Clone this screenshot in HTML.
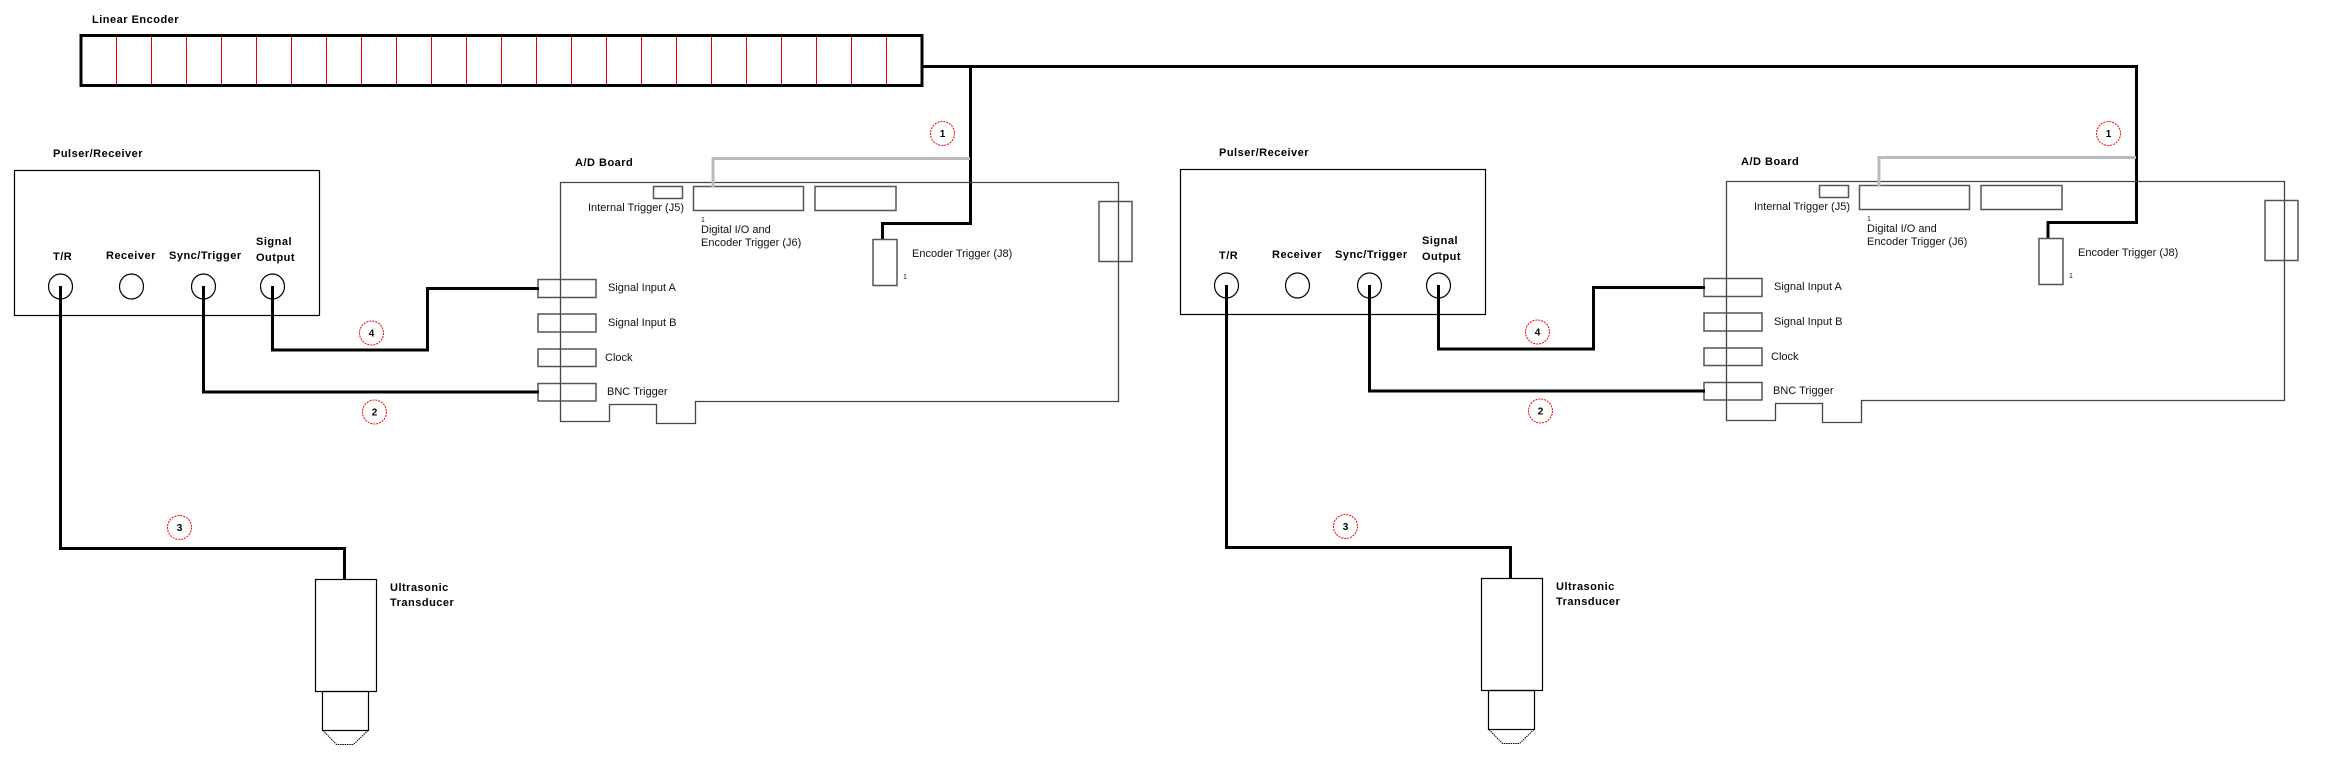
<!DOCTYPE html>
<html><head><meta charset="utf-8"><style>
html,body{margin:0;padding:0;background:#fff;}
svg{display:block;}
.b{font-family:"Liberation Sans",Arial,sans-serif;font-weight:bold;font-size:11px;letter-spacing:0.5px;fill:#000;}
.n{font-family:"Liberation Sans",Arial,sans-serif;font-size:11px;fill:#111;}
.s{font-family:"Liberation Sans",Arial,sans-serif;font-size:7px;fill:#111;}
.num{font-family:"Liberation Sans",Arial,sans-serif;font-weight:bold;font-size:10px;fill:#000;}
.cab{fill:none;stroke:#000;stroke-width:3;}
.thin{fill:none;stroke:#000;stroke-width:1.2;}
.brd{fill:none;stroke:#444;stroke-width:1.3;}
.con{fill:none;stroke:#555;stroke-width:1.5;}
.rc{fill:none;stroke:#e00;stroke-width:1;stroke-dasharray:2 1;}
</style></head><body>
<svg width="2338" height="765" viewBox="0 0 2338 765" xmlns="http://www.w3.org/2000/svg">
<!-- Linear encoder -->
<text class="b" x="92" y="23">Linear Encoder</text>
<g stroke="#e00" stroke-width="1">
<line x1="116.5" y1="37" x2="116.5" y2="84"/><line x1="151.5" y1="37" x2="151.5" y2="84"/><line x1="186.5" y1="37" x2="186.5" y2="84"/><line x1="221.5" y1="37" x2="221.5" y2="84"/><line x1="256.5" y1="37" x2="256.5" y2="84"/><line x1="291.5" y1="37" x2="291.5" y2="84"/><line x1="326.5" y1="37" x2="326.5" y2="84"/><line x1="361.5" y1="37" x2="361.5" y2="84"/><line x1="396.5" y1="37" x2="396.5" y2="84"/><line x1="431.5" y1="37" x2="431.5" y2="84"/><line x1="466.5" y1="37" x2="466.5" y2="84"/><line x1="501.5" y1="37" x2="501.5" y2="84"/><line x1="536.5" y1="37" x2="536.5" y2="84"/><line x1="571.5" y1="37" x2="571.5" y2="84"/><line x1="606.5" y1="37" x2="606.5" y2="84"/><line x1="641.5" y1="37" x2="641.5" y2="84"/><line x1="676.5" y1="37" x2="676.5" y2="84"/><line x1="711.5" y1="37" x2="711.5" y2="84"/><line x1="746.5" y1="37" x2="746.5" y2="84"/><line x1="781.5" y1="37" x2="781.5" y2="84"/><line x1="816.5" y1="37" x2="816.5" y2="84"/><line x1="851.5" y1="37" x2="851.5" y2="84"/><line x1="886.5" y1="37" x2="886.5" y2="84"/>
</g>
<rect x="81" y="35.5" width="841" height="50" fill="none" stroke="#000" stroke-width="3"/>
<!-- main encoder cable -->
<path class="cab" d="M922,66.5 H2136.5 V222.5 H2048 V239"/>
<path class="cab" d="M970.5,66.5 V223.5 H882.5 V240"/>

<!-- LEFT UNIT -->
<g>
<text class="b" x="53" y="157">Pulser/Receiver</text>
<rect x="14.5" y="170.5" width="305" height="145" class="thin"/>
<text class="b" x="53" y="260">T/R</text>
<text class="b" x="106" y="259">Receiver</text>
<text class="b" x="169" y="259">Sync/Trigger</text>
<text class="b" x="256" y="245">Signal</text>
<text class="b" x="256" y="261">Output</text>
<ellipse cx="60.5" cy="286.5" rx="12" ry="12.5" class="thin"/>
<ellipse cx="131.5" cy="286.5" rx="12" ry="12.5" class="thin"/>
<ellipse cx="203.5" cy="286.5" rx="12" ry="12.5" class="thin"/>
<ellipse cx="272.5" cy="286.5" rx="12" ry="12.5" class="thin"/>

<text class="b" x="575" y="166">A/D Board</text>
<path class="brd" d="M560.5,182.5 H1118.5 V401.5 H695.5 V423.5 H656.5 V404.5 H609.5 V421.5 H560.5 Z"/>
<rect x="1099" y="201.5" width="33" height="60" class="con"/>
<rect x="653.5" y="186.5" width="29" height="12" class="con"/>
<rect x="693.5" y="186.5" width="110" height="24" class="con"/>
<rect x="815" y="186.5" width="81" height="24" class="con"/>
<rect x="873" y="239.5" width="24" height="46" class="con"/>
<path d="M713,187 V158.5 H970" fill="none" stroke="#bbb" stroke-width="3"/>
<text class="n" x="588" y="211">Internal Trigger (J5)</text>
<text class="s" x="701" y="222">1</text>
<text class="n" x="701" y="233">Digital I/O and</text>
<text class="n" x="701" y="246"> Encoder Trigger (J6)</text>
<text class="n" x="912" y="257">Encoder Trigger (J8)</text>
<text class="s" x="903" y="279">1</text>
<rect x="538" y="279.5" width="58" height="18" class="con"/>
<rect x="538" y="314" width="58" height="18" class="con"/>
<rect x="538" y="349" width="58" height="17.5" class="con"/>
<rect x="538" y="383.5" width="58" height="17.5" class="con"/>
<text class="n" x="608" y="291">Signal Input A</text>
<text class="n" x="608" y="326">Signal Input B</text>
<text class="n" x="605" y="361">Clock</text>
<text class="n" x="607" y="395">BNC Trigger</text>

<path class="cab" d="M272.5,286 V350 H427.5 V288.5 H539"/>
<path class="cab" d="M203.5,286 V392 H539"/>
<path class="cab" d="M60.5,286 V548.5 H344.5 V580"/>

<rect x="315.5" y="579.5" width="61" height="112" class="thin"/>
<rect x="322.5" y="691.5" width="46" height="39" class="thin"/>
<path d="M323,730.5 L336.5,744.5 H353.5 L368,730.5" fill="none" stroke="#000" stroke-width="1" stroke-dasharray="1.5 0.8"/>
<text class="b" x="390" y="591">Ultrasonic</text>
<text class="b" x="390" y="606">Transducer</text>

<circle cx="942.5" cy="133.5" r="12" class="rc"/><text class="num" x="942.5" y="137" text-anchor="middle">1</text>
<circle cx="374.5" cy="412" r="12" class="rc"/><text class="num" x="374.5" y="415.5" text-anchor="middle">2</text>
<circle cx="179.5" cy="527.5" r="12" class="rc"/><text class="num" x="179.5" y="531" text-anchor="middle">3</text>
<circle cx="371.5" cy="333" r="12" class="rc"/><text class="num" x="371.5" y="336.5" text-anchor="middle">4</text>
</g>

<!-- RIGHT UNIT -->
<g transform="translate(1166,-1)">
<text class="b" x="53" y="157">Pulser/Receiver</text>
<rect x="14.5" y="170.5" width="305" height="145" class="thin"/>
<text class="b" x="53" y="260">T/R</text>
<text class="b" x="106" y="259">Receiver</text>
<text class="b" x="169" y="259">Sync/Trigger</text>
<text class="b" x="256" y="245">Signal</text>
<text class="b" x="256" y="261">Output</text>
<ellipse cx="60.5" cy="286.5" rx="12" ry="12.5" class="thin"/>
<ellipse cx="131.5" cy="286.5" rx="12" ry="12.5" class="thin"/>
<ellipse cx="203.5" cy="286.5" rx="12" ry="12.5" class="thin"/>
<ellipse cx="272.5" cy="286.5" rx="12" ry="12.5" class="thin"/>

<text class="b" x="575" y="166">A/D Board</text>
<path class="brd" d="M560.5,182.5 H1118.5 V401.5 H695.5 V423.5 H656.5 V404.5 H609.5 V421.5 H560.5 Z"/>
<rect x="1099" y="201.5" width="33" height="60" class="con"/>
<rect x="653.5" y="186.5" width="29" height="12" class="con"/>
<rect x="693.5" y="186.5" width="110" height="24" class="con"/>
<rect x="815" y="186.5" width="81" height="24" class="con"/>
<rect x="873" y="239.5" width="24" height="46" class="con"/>
<path d="M713,187 V158.5 H970" fill="none" stroke="#bbb" stroke-width="3"/>
<text class="n" x="588" y="211">Internal Trigger (J5)</text>
<text class="s" x="701" y="222">1</text>
<text class="n" x="701" y="233">Digital I/O and</text>
<text class="n" x="701" y="246"> Encoder Trigger (J6)</text>
<text class="n" x="912" y="257">Encoder Trigger (J8)</text>
<text class="s" x="903" y="279">1</text>
<rect x="538" y="279.5" width="58" height="18" class="con"/>
<rect x="538" y="314" width="58" height="18" class="con"/>
<rect x="538" y="349" width="58" height="17.5" class="con"/>
<rect x="538" y="383.5" width="58" height="17.5" class="con"/>
<text class="n" x="608" y="291">Signal Input A</text>
<text class="n" x="608" y="326">Signal Input B</text>
<text class="n" x="605" y="361">Clock</text>
<text class="n" x="607" y="395">BNC Trigger</text>

<path class="cab" d="M272.5,286 V350 H427.5 V288.5 H539"/>
<path class="cab" d="M203.5,286 V392 H539"/>
<path class="cab" d="M60.5,286 V548.5 H344.5 V580"/>

<rect x="315.5" y="579.5" width="61" height="112" class="thin"/>
<rect x="322.5" y="691.5" width="46" height="39" class="thin"/>
<path d="M323,730.5 L336.5,744.5 H353.5 L368,730.5" fill="none" stroke="#000" stroke-width="1" stroke-dasharray="1.5 0.8"/>
<text class="b" x="390" y="591">Ultrasonic</text>
<text class="b" x="390" y="606">Transducer</text>

<circle cx="942.5" cy="134.5" r="12" class="rc"/><text class="num" x="942.5" y="138" text-anchor="middle">1</text>
<circle cx="374.5" cy="412" r="12" class="rc"/><text class="num" x="374.5" y="415.5" text-anchor="middle">2</text>
<circle cx="179.5" cy="527.5" r="12" class="rc"/><text class="num" x="179.5" y="531" text-anchor="middle">3</text>
<circle cx="371.5" cy="333" r="12" class="rc"/><text class="num" x="371.5" y="336.5" text-anchor="middle">4</text>
</g>
</svg>
</body></html>
